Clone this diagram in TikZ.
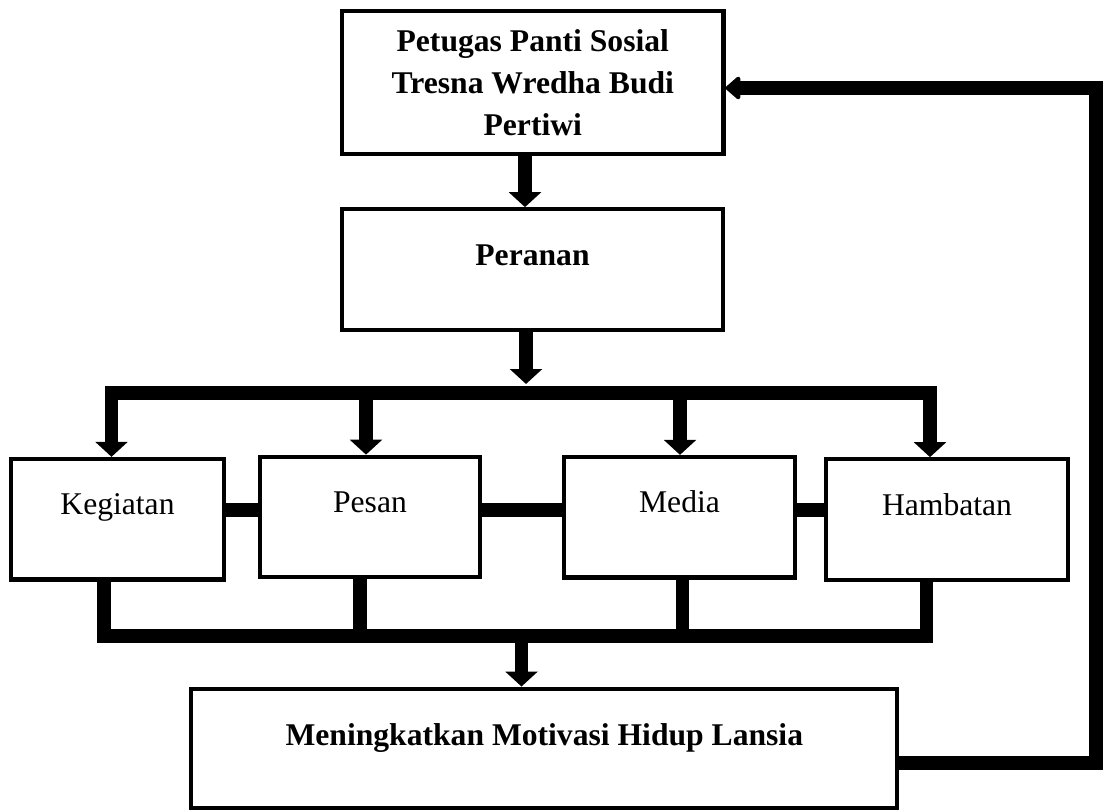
\documentclass[tikz,border=0pt]{standalone}
\usepackage{fontspec}
\setmainfont{Liberation Serif}
\usetikzlibrary{arrows.meta}
\begin{document}
\begin{tikzpicture}[x=0.02cm, y=-0.02cm,
  every node/.style={font=\fontsize{18}{24}\selectfont},
  bold/.style={font=\fontsize{18}{24}\selectfont\bfseries},
  box/.style={draw, line width=2.4pt, inner sep=0pt, minimum height=2.41cm},
  item/.style={box, text height=12pt, text depth=17pt},
  link/.style={line width=7.5pt},
  arr/.style={link, -{Triangle[width=18pt,length=8.5pt]}}]
  \useasboundingbox (0,0) rectangle (1103,810);
  \node[box, bold, align=center, minimum width=7.63cm, minimum height=2.85cm] (pet) at (532.8,82.5)
    {Petugas Panti Sosial\\Tresna Wredha Budi\\Pertiwi};
  \node[box, bold, minimum width=7.62cm, text height=12pt, text depth=16.5pt] (per) at (532.5,269.5) {Peranan};
  \node[item, minimum width=4.25cm] (keg) at (117.5,519.2) {Kegiatan};
  \node[item, minimum width=4.41cm] (pes) at (370,517) {Pesan};
  \node[item, minimum width=4.63cm] (med) at (679.5,517.2) {Media};
  \node[item, minimum width=4.84cm] (ham) at (947,519.5) {Hambatan};
  \node[box, bold, minimum width=14.12cm, minimum height=2.39cm, text height=12pt, text depth=14.8pt] (mot) at (544.3,748.4)
    {Meningkatkan Motivasi Hidup Lansia};
  \coordinate (m1) at (525,0); \coordinate (m2) at (526,384);
  \coordinate (t1) at (111.5,393); \coordinate (t2) at (366,393);
  \coordinate (t3) at (680,393); \coordinate (t4) at (930,393);
  \coordinate (s) at (0,510);
  \coordinate (b0) at (521.5,636); \coordinate (b1) at (104,636); \coordinate (b2) at (360,636);
  \coordinate (b3) at (682.5,636); \coordinate (b4) at (926.7,636);
  \coordinate (f1) at (1096,763); \coordinate (f2) at (1096,88);
  \draw[arr] (pet.south -| m1) -- (per.north -| m1);
  \draw[arr] (per.south -| m2) -- (m2);
  \draw[arr, {Triangle[width=18pt,length=8.5pt]}-{Triangle[width=18pt,length=8.5pt]}]
    (keg.north -| t1) -- (t1) -- (t4) -- (ham.north -| t4);
  \draw[arr] (t2) -- (t2 |- pes.north);
  \draw[arr] (t3) -- (t3 |- med.north);
  \draw[link] (keg.east |- s) -- (pes.west |- s);
  \draw[link] (pes.east |- s) -- (med.west |- s);
  \draw[link] (med.east |- s) -- (ham.west |- s);
  \draw[link] (keg.south -| b1) -- (b1) -- (b4) -- (b4 |- ham.south);
  \draw[link] (pes.south -| b2) -- (b2);
  \draw[link] (med.south -| b3) -- (b3);
  \draw[arr] (b0) -- (b0 |- mot.north);
  \draw[link, line width=8pt, -{Triangle[width=15pt,length=9pt,round]}]
    (mot.east |- f1) -- (f1) -- (f2) -- (pet.east |- f2);
\end{tikzpicture}
\end{document}
